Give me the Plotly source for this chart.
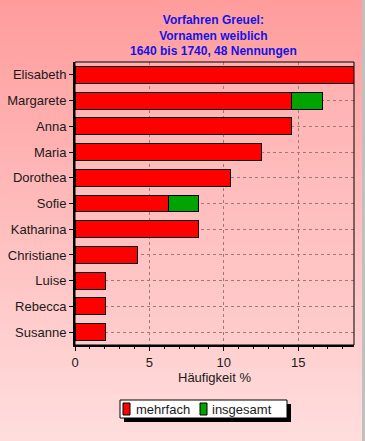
import plotly.graph_objects as go

categories = ["Elisabeth", "Margarete", "Anna", "Maria", "Dorothea", "Sofie",
              "Katharina", "Christiane", "Luise", "Rebecca", "Susanne"]
mehrfach = [18.75, 14.58, 14.58, 12.50, 10.42, 6.25, 8.33, 4.17, 2.08, 2.08, 2.08]
insgesamt = [0, 2.08, 0, 0, 0, 2.08, 0, 0, 0, 0, 0]
series_names = ["mehrfach", "insgesamt"]
series_colors = ["#ff0000", "#00a400"]
x_ticks = [0, 5, 10, 15]
title_lines = ["Vorfahren Greuel:", "Vornamen weiblich", "1640 bis 1740, 48 Nennungen"]

W, H = 365, 441
ML, MR, MT, MB = 75, 11, 62, 96
PH = H - MT - MB
PW = W - ML - MR

def py2paper(py):
    return (H - MB - py) / PH

def px2paper(px):
    return (px - ML) / PW

def lerp(c1, c2, t):
    return "rgb(%d,%d,%d)" % tuple(round(a + (b - a) * t) for a, b in zip(c1, c2))

shapes = []
N = 60
top_c, bot_c = (255, 156, 156), (255, 222, 222)
for i in range(N):
    y0p = H * i / N
    y1p = H * (i + 1) / N + 1
    shapes.append(dict(type="rect", xref="paper", yref="paper", layer="below",
                       x0=px2paper(-5), x1=px2paper(W + 5),
                       y0=py2paper(y1p), y1=py2paper(y0p),
                       line=dict(width=0), fillcolor=lerp(top_c, bot_c, (i + 0.5) / N)))
M = 40
ptop, pbot = (255, 176, 176), (255, 204, 204)
for i in range(M):
    shapes.append(dict(type="rect", xref="paper", yref="paper", layer="below",
                       x0=0, x1=1, y0=1 - (i + 1) / M - 0.002, y1=1 - i / M,
                       line=dict(width=0), fillcolor=lerp(ptop, pbot, (i + 0.5) / M)))
# plot frame (thin top/right)
shapes.append(dict(type="rect", xref="paper", yref="paper", layer="above",
                   x0=0, x1=1, y0=0, y1=1, line=dict(color="black", width=1)))
# window border right
shapes.append(dict(type="rect", xref="paper", yref="paper", layer="below",
                   x0=px2paper(362), x1=px2paper(366), y0=py2paper(H + 2), y1=py2paper(-2),
                   line=dict(width=0), fillcolor="#c0c0c0"))

def prect(x0, y0, x1, y1, fill, line_w=0, layer="above"):
    return dict(type="rect", xref="paper", yref="paper", layer=layer,
                x0=px2paper(x0), x1=px2paper(x1), y0=py2paper(y1), y1=py2paper(y0),
                line=dict(color="black", width=line_w), fillcolor=fill)

font = "Liberation Sans, Arial, sans-serif"

# legend box (drawn manually) with shadow
shapes.append(prect(124, 404, 291, 422, "black"))
shapes.append(prect(120, 400, 287, 418, "white", 1))
legend_sym_x = [123, 200]
legend_txt_x = [134, 210]
annotations = []
for nm, col, sx, tx in zip(series_names, series_colors, legend_sym_x, legend_txt_x):
    shapes.append(prect(sx, 403, sx + 7, 415, col, 1))
    annotations.append(dict(text=nm, xref="paper", yref="paper", x=px2paper(tx), y=py2paper(409),
                            xanchor="left", yanchor="middle", showarrow=False,
                            font=dict(family=font, size=13, color="#1a1a1a")))

annotations.append(dict(text="<br>".join(title_lines), xref="paper", yref="paper",
                        x=px2paper(213), y=py2paper(35), xanchor="center", yanchor="middle",
                        showarrow=False, align="center",
                        font=dict(family=font, size=12, color="#1414e6", weight="bold")))

fig = go.Figure()
for nm, col, vals in zip(series_names, series_colors, [mehrfach, insgesamt]):
    fig.add_trace(go.Bar(y=categories, x=vals, name=nm, orientation="h",
                         marker=dict(color=col, line=dict(color="black", width=1)),
                         width=0.66))

fig.update_layout(
    width=W, height=H,
    margin=dict(l=ML, r=MR, t=MT, b=MB),
    barmode="stack",
    paper_bgcolor="#ffdede",
    plot_bgcolor="rgba(0,0,0,0)",
    font=dict(family=font, size=13, color="#1a1a1a"),
    shapes=shapes,
    showlegend=False,
    annotations=annotations,
)
fig.update_xaxes(range=[0, 18.75], tickvals=x_ticks, ticks="outside", ticklen=4,
                 tickcolor="black", showline=True, linecolor="black", linewidth=2,
                 showgrid=True, gridcolor="#a07878", griddash="3px,3px", gridwidth=1,
                 zeroline=False, automargin=False,
                 minor=dict(dtick=1, ticks="outside", ticklen=2, tickcolor="black", showgrid=False),
                 title=dict(text="Häufigkeit %", font=dict(family=font, size=13, color="#1a1a1a"),
                            standoff=2),
                 tickfont=dict(family=font, size=13, color="#1a1a1a"), fixedrange=True)
fig.update_yaxes(categoryorder="array", categoryarray=categories, autorange="reversed",
                 ticks="outside", ticklen=4, tickcolor="black", automargin=False,
                 showline=True, linecolor="black", linewidth=2,
                 showgrid=True, gridcolor="#a07878", griddash="3px,3px", gridwidth=1,
                 tickfont=dict(family=font, size=13, color="#1a1a1a"), fixedrange=True)

fig.write_html("out.html", config={"displayModeBar": False},
               post_script="document.body.style.margin='0';document.body.style.overflow='hidden';")
